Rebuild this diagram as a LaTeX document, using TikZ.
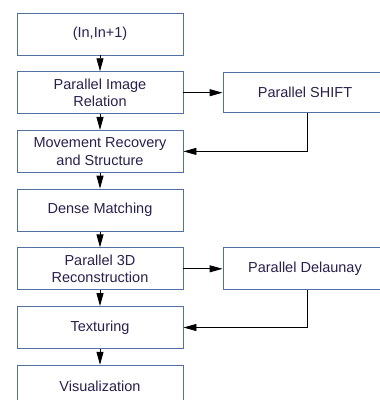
\documentclass[tikz,border=0pt]{standalone}
\usepackage{fontspec}
\setmainfont{Liberation Sans}
\usetikzlibrary{arrows.meta,positioning}

\definecolor{boxline}{RGB}{82,112,162}
\definecolor{boxtext}{RGB}{42,32,78}

\tikzset{
  stage/.style={draw=boxline,line width=0.9pt,fill=white,minimum width=166pt,
    minimum height=42pt,inner sep=0pt,align=center,text=boxtext,
    font=\fontsize{14.5}{17.7}\selectfont},
  flow/.style={line width=0.9pt,-{Triangle[length=13pt,width=7pt]}}
}

\begin{document}
\begin{tikzpicture}[x=1pt,y=1pt]
\clip (0,0) rectangle (380,-400);
% main pipeline
\node[stage] (pair) at (100,-34) {(In,In+1)};
\node[stage] (rel) at ([shift={+(0,-58.7)}]pair) {Parallel Image\\Relation};
\node[stage] (move) at ([shift={+(0,-58.7)}]rel) {Movement Recovery\\and Structure};
\node[stage] (dense) at ([shift={+(0,-58.7)}]move) {Dense Matching};
\node[stage] (recon) at ([shift={+(0,-58.7)}]dense) {Parallel 3D\\Reconstruction};
\node[stage] (tex) at ([shift={+(0,-58.7)}]recon) {Texturing};
\node[stage] (vis) at ([shift={+(0,-58.7)}]tex) {Visualization};
% side steps
\node[stage,minimum width=164pt,minimum height=40pt] (sift) at ([shift={+(205,0)}]rel) {Parallel SHIFT};
\node[stage,minimum width=164pt] (delaunay) at ([shift={+(205,0)}]recon) {Parallel Delaunay};
\draw[flow] (pair)--(rel);
\draw[flow] (rel)--(move);
\draw[flow] (move)--(dense);
\draw[flow] (dense)--(recon);
\draw[flow] (recon)--(tex);
\draw[flow] (tex)--(vis);
\draw[flow] (rel)--(sift);
\draw[flow] (recon)--(delaunay);
\draw[flow] ([xshift=2pt]sift.south) |- (move.east);
\draw[flow] ([xshift=2pt]delaunay.south) |- (tex.east);
\end{tikzpicture}
\end{document}
